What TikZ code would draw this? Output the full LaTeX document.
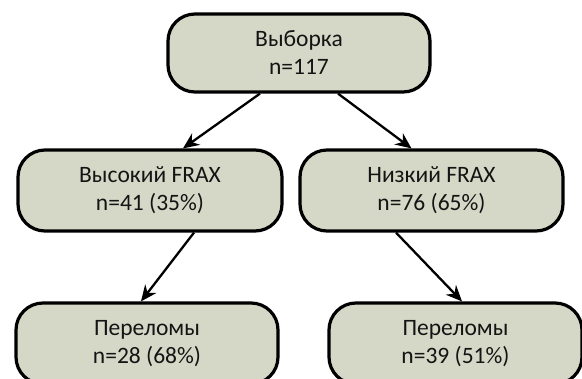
\documentclass[tikz,border=0pt]{standalone}
\usepackage{fontspec}
\setmainfont{Carlito}
\usetikzlibrary{arrows.meta,calc}
\definecolor{boxfill}{RGB}{214,216,199}
\definecolor{txt}{RGB}{20,20,20}
\tikzset{
  box/.style={draw=black, line width=3.2pt, fill=boxfill, rounded corners=27pt,
    align=center, inner sep=0pt, text=txt, font=\fontsize{23.5}{28}\selectfont},
  conn/.style={line width=2.3pt, -{Stealth[length=16pt,width=14pt]}}
}
\begin{document}
\begin{tikzpicture}[x=1pt,y=-1pt]
\useasboundingbox (0,0) rectangle (582,379);
\node[box, minimum width=262pt, minimum height=78pt] (top) at (299,53) {Выборка\\n=117};
\node[box, minimum width=264pt, minimum height=81pt] (ml) at (150,190.5) {Высокий FRAX\\n=41 (35\%)};
\node[box, minimum width=263pt, minimum height=81pt] (mr) at (431.5,190.5) {Низкий FRAX\\n=76 (65\%)};
\node[box, minimum width=262pt, minimum height=81pt] (bl) at (147,343.5) {Переломы\\n=28 (68\%)};
\node[box, minimum width=253pt, minimum height=81pt] (br) at (455.5,343.5) {Переломы\\n=39 (51\%)};
\draw[conn] ([xshift=-39pt]top.south) -- ([xshift=33pt]ml.north);
\draw[conn] ([xshift=39pt]top.south) -- ([xshift=-20pt]mr.north);
\draw[conn] ([xshift=44pt]ml.south) -- ([xshift=-6pt]bl.north);
\draw[conn] ([xshift=-35.5pt]mr.south) -- ([xshift=6.5pt]br.north);
\end{tikzpicture}
\end{document}
